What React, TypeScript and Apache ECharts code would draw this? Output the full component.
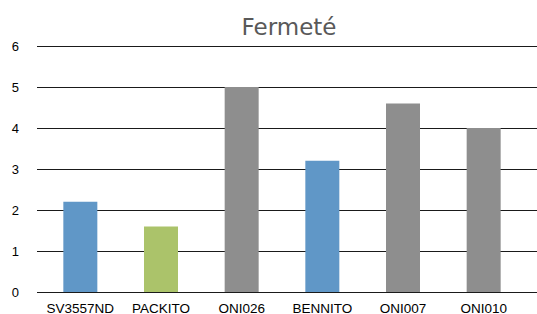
import React, { useEffect, useRef } from "react";
import * as echarts from "echarts";

const categories = ["SV3557ND", "PACKITO", "ONI026", "BENNITO", "ONI007", "ONI010"];
const values = [2.2, 1.6, 5.0, 3.2, 4.6, 4.0];
const barColors = ["#6097c7", "#abc36a", "#8e8e8e", "#6097c7", "#8e8e8e", "#8e8e8e"];
const titleText = "Fermeté";

export default function App() {
  const ref = useRef<HTMLDivElement>(null);
  useEffect(() => {
    if (!ref.current) return;
    const chart = echarts.init(ref.current, null, { renderer: "svg" });
    const font = "'Liberation Sans', Arial, sans-serif";
    chart.setOption({
      animation: false,
      backgroundColor: "#ffffff",
      title: {
        text: titleText,
        left: 284,
        textAlign: "center",
        top: 10,
        textStyle: { fontFamily: "'DejaVu Sans', sans-serif", fontSize: 23, fontWeight: "normal", color: "#595959" },
      },
      grid: [
        { left: 40, right: 13, top: 46, bottom: 22, containLabel: false, outerBoundsMode: "none" },
        { left: 37, right: 0, top: 46, bottom: 22, containLabel: false, outerBoundsMode: "none" },
      ],
      xAxis: [
        {
          type: "category",
          data: categories,
          gridIndex: 0,
          axisLine: { show: false },
          axisTick: { show: false },
          axisLabel: { fontFamily: font, fontSize: 13.5, color: "#000", margin: 9, interval: 0 },
        },
        { type: "value", gridIndex: 1, show: false, min: 0, max: 1 },
      ],
      yAxis: [
        {
          type: "value",
          gridIndex: 0,
          min: 0,
          max: 6,
          interval: 1,
          axisLine: { show: false },
          axisTick: { show: false },
          splitLine: { show: false },
          axisLabel: { fontFamily: font, fontSize: 13, color: "#000", margin: 21 },
        },
        {
          type: "value",
          gridIndex: 1,
          min: 0,
          max: 6,
          interval: 1,
          axisLine: { show: false },
          axisTick: { show: false },
          axisLabel: { show: false },
          splitLine: { show: true, lineStyle: { color: "#1a1a1a", width: 1 } },
        },
      ],
      series: [
        {
          type: "bar",
          xAxisIndex: 0,
          yAxisIndex: 0,
          barWidth: 34,
          data: values.map((v, i) => ({ value: v, itemStyle: { color: barColors[i] } })),
          z: 3,
        },
      ],
    });
    return () => chart.dispose();
  }, []);
  return (
    <div
      ref={ref}
      style={{ position: "fixed", left: 0, top: 0, width: 537, height: 314 }}
    />
  );
}
